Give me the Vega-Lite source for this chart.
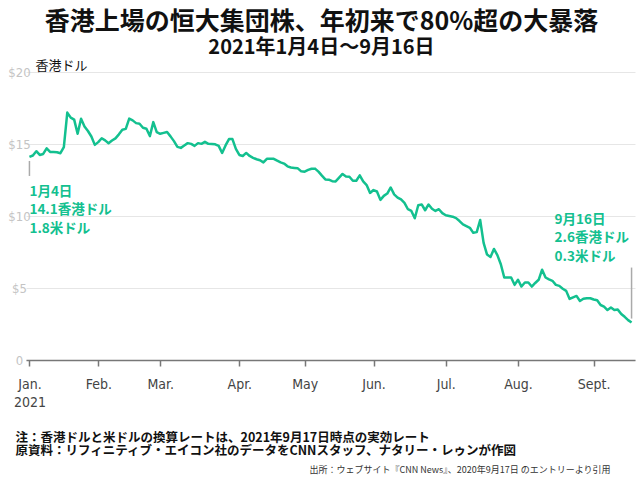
{
  "$schema": "https://vega.github.io/schema/vega-lite/v6.json",
  "autosize": {"type": "none"},
  "width": 609,
  "height": 288,
  "padding": {"left": 26, "top": 72, "right": 5, "bottom": 119},
  "background": "white",
  "title": {
    "text": "香港上場の恒大集団株、年初来で80%超の大暴落",
    "subtitle": "2021年1月4日～9月16日",
    "anchor": "middle",
    "frame": "bounds",
    "font": "Noto Sans CJK JP",
    "fontSize": 25,
    "fontWeight": "bold",
    "color": "#111111",
    "subtitleFont": "Noto Sans CJK JP",
    "subtitleFontSize": 20,
    "subtitleFontWeight": "bold",
    "subtitleColor": "#111111",
    "subtitlePadding": 3,
    "offset": 1
  },
  "config": {"view": {"stroke": null}},
  "datasets": {
    "prices": [
      {"date": "2021-01-04", "price": 14.1},
      {"date": "2021-01-05", "price": 14.2},
      {"date": "2021-01-06", "price": 14.5},
      {"date": "2021-01-07", "price": 14.24},
      {"date": "2021-01-08", "price": 14.31},
      {"date": "2021-01-11", "price": 14.7},
      {"date": "2021-01-12", "price": 14.45},
      {"date": "2021-01-13", "price": 14.44},
      {"date": "2021-01-14", "price": 14.43},
      {"date": "2021-01-15", "price": 14.36},
      {"date": "2021-01-18", "price": 14.78},
      {"date": "2021-01-19", "price": 17.18},
      {"date": "2021-01-20", "price": 16.83},
      {"date": "2021-01-21", "price": 16.69},
      {"date": "2021-01-22", "price": 15.71},
      {"date": "2021-01-25", "price": 16.76},
      {"date": "2021-01-26", "price": 16.22},
      {"date": "2021-01-27", "price": 15.9},
      {"date": "2021-01-28", "price": 15.52},
      {"date": "2021-01-29", "price": 14.94},
      {"date": "2021-02-01", "price": 15.13},
      {"date": "2021-02-02", "price": 15.4},
      {"date": "2021-02-03", "price": 15.25},
      {"date": "2021-02-04", "price": 15.05},
      {"date": "2021-02-05", "price": 15.24},
      {"date": "2021-02-08", "price": 15.39},
      {"date": "2021-02-09", "price": 15.67},
      {"date": "2021-02-10", "price": 15.99},
      {"date": "2021-02-11", "price": 16.05},
      {"date": "2021-02-16", "price": 16.76},
      {"date": "2021-02-17", "price": 16.64},
      {"date": "2021-02-18", "price": 16.45},
      {"date": "2021-02-19", "price": 16.41},
      {"date": "2021-02-22", "price": 16.13},
      {"date": "2021-02-23", "price": 16.06},
      {"date": "2021-02-24", "price": 15.55},
      {"date": "2021-02-25", "price": 16.52},
      {"date": "2021-02-26", "price": 15.83},
      {"date": "2021-03-01", "price": 15.71},
      {"date": "2021-03-02", "price": 15.77},
      {"date": "2021-03-03", "price": 15.83},
      {"date": "2021-03-04", "price": 15.53},
      {"date": "2021-03-05", "price": 15.2},
      {"date": "2021-03-08", "price": 14.8},
      {"date": "2021-03-09", "price": 14.73},
      {"date": "2021-03-10", "price": 14.9},
      {"date": "2021-03-11", "price": 15.06},
      {"date": "2021-03-12", "price": 15.01},
      {"date": "2021-03-15", "price": 14.87},
      {"date": "2021-03-16", "price": 15.06},
      {"date": "2021-03-17", "price": 15.01},
      {"date": "2021-03-18", "price": 15.15},
      {"date": "2021-03-19", "price": 15.01},
      {"date": "2021-03-22", "price": 15.0},
      {"date": "2021-03-23", "price": 14.98},
      {"date": "2021-03-24", "price": 14.87},
      {"date": "2021-03-25", "price": 14.38},
      {"date": "2021-03-26", "price": 14.9},
      {"date": "2021-03-29", "price": 15.34},
      {"date": "2021-03-30", "price": 15.34},
      {"date": "2021-03-31", "price": 14.66},
      {"date": "2021-04-01", "price": 14.24},
      {"date": "2021-04-07", "price": 14.17},
      {"date": "2021-04-08", "price": 14.38},
      {"date": "2021-04-09", "price": 14.17},
      {"date": "2021-04-12", "price": 14.04},
      {"date": "2021-04-13", "price": 13.94},
      {"date": "2021-04-14", "price": 13.87},
      {"date": "2021-04-15", "price": 13.72},
      {"date": "2021-04-16", "price": 13.97},
      {"date": "2021-04-19", "price": 13.97},
      {"date": "2021-04-20", "price": 13.97},
      {"date": "2021-04-21", "price": 13.84},
      {"date": "2021-04-22", "price": 13.72},
      {"date": "2021-04-23", "price": 13.64},
      {"date": "2021-04-26", "price": 13.45},
      {"date": "2021-04-27", "price": 13.37},
      {"date": "2021-04-28", "price": 13.34},
      {"date": "2021-04-29", "price": 13.31},
      {"date": "2021-04-30", "price": 13.1},
      {"date": "2021-05-03", "price": 13.08},
      {"date": "2021-05-04", "price": 13.2},
      {"date": "2021-05-05", "price": 13.28},
      {"date": "2021-05-06", "price": 13.29},
      {"date": "2021-05-07", "price": 13.08},
      {"date": "2021-05-10", "price": 12.8},
      {"date": "2021-05-11", "price": 12.54},
      {"date": "2021-05-12", "price": 12.52},
      {"date": "2021-05-13", "price": 12.42},
      {"date": "2021-05-14", "price": 12.4},
      {"date": "2021-05-17", "price": 12.66},
      {"date": "2021-05-18", "price": 12.92},
      {"date": "2021-05-20", "price": 12.75},
      {"date": "2021-05-21", "price": 12.73},
      {"date": "2021-05-24", "price": 12.45},
      {"date": "2021-05-25", "price": 12.45},
      {"date": "2021-05-26", "price": 12.82},
      {"date": "2021-05-27", "price": 12.4},
      {"date": "2021-05-28", "price": 12.15},
      {"date": "2021-05-31", "price": 11.6},
      {"date": "2021-06-01", "price": 11.8},
      {"date": "2021-06-02", "price": 11.7},
      {"date": "2021-06-03", "price": 11.12},
      {"date": "2021-06-04", "price": 11.4},
      {"date": "2021-06-07", "price": 11.56},
      {"date": "2021-06-08", "price": 11.98},
      {"date": "2021-06-09", "price": 11.5},
      {"date": "2021-06-10", "price": 11.28},
      {"date": "2021-06-11", "price": 11.15},
      {"date": "2021-06-15", "price": 10.91},
      {"date": "2021-06-16", "price": 10.47},
      {"date": "2021-06-17", "price": 10.35},
      {"date": "2021-06-18", "price": 9.84},
      {"date": "2021-06-21", "price": 10.75},
      {"date": "2021-06-22", "price": 10.8},
      {"date": "2021-06-23", "price": 10.4},
      {"date": "2021-06-24", "price": 10.8},
      {"date": "2021-06-25", "price": 10.5},
      {"date": "2021-06-28", "price": 10.35},
      {"date": "2021-06-29", "price": 10.47},
      {"date": "2021-06-30", "price": 10.2},
      {"date": "2021-07-02", "price": 10.05},
      {"date": "2021-07-05", "price": 10.0},
      {"date": "2021-07-06", "price": 9.95},
      {"date": "2021-07-07", "price": 9.85},
      {"date": "2021-07-08", "price": 9.65},
      {"date": "2021-07-09", "price": 9.42},
      {"date": "2021-07-12", "price": 9.3},
      {"date": "2021-07-13", "price": 9.18},
      {"date": "2021-07-14", "price": 8.83},
      {"date": "2021-07-15", "price": 8.88},
      {"date": "2021-07-16", "price": 9.72},
      {"date": "2021-07-19", "price": 8.13},
      {"date": "2021-07-20", "price": 7.32},
      {"date": "2021-07-21", "price": 7.15},
      {"date": "2021-07-22", "price": 7.71},
      {"date": "2021-07-23", "price": 7.28},
      {"date": "2021-07-26", "price": 6.65},
      {"date": "2021-07-27", "price": 5.73},
      {"date": "2021-07-28", "price": 5.73},
      {"date": "2021-07-29", "price": 5.73},
      {"date": "2021-07-30", "price": 5.22},
      {"date": "2021-08-02", "price": 5.57},
      {"date": "2021-08-03", "price": 5.1},
      {"date": "2021-08-04", "price": 5.38},
      {"date": "2021-08-05", "price": 5.38},
      {"date": "2021-08-06", "price": 5.1},
      {"date": "2021-08-09", "price": 5.35},
      {"date": "2021-08-10", "price": 5.57},
      {"date": "2021-08-11", "price": 6.27},
      {"date": "2021-08-12", "price": 5.73},
      {"date": "2021-08-13", "price": 5.6},
      {"date": "2021-08-16", "price": 5.5},
      {"date": "2021-08-17", "price": 5.22},
      {"date": "2021-08-18", "price": 5.15},
      {"date": "2021-08-19", "price": 4.95},
      {"date": "2021-08-20", "price": 4.8},
      {"date": "2021-08-23", "price": 4.24},
      {"date": "2021-08-24", "price": 4.35},
      {"date": "2021-08-25", "price": 4.45},
      {"date": "2021-08-26", "price": 4.1},
      {"date": "2021-08-27", "price": 4.25},
      {"date": "2021-08-30", "price": 4.29},
      {"date": "2021-08-31", "price": 4.29},
      {"date": "2021-09-01", "price": 4.2},
      {"date": "2021-09-02", "price": 4.15},
      {"date": "2021-09-03", "price": 3.82},
      {"date": "2021-09-06", "price": 3.71},
      {"date": "2021-09-07", "price": 3.47},
      {"date": "2021-09-08", "price": 3.64},
      {"date": "2021-09-09", "price": 3.47},
      {"date": "2021-09-10", "price": 3.5},
      {"date": "2021-09-13", "price": 3.2},
      {"date": "2021-09-14", "price": 3.0},
      {"date": "2021-09-15", "price": 2.77},
      {"date": "2021-09-16", "price": 2.6}
    ],
    "notes": [
      {"date": "2021-01-04", "price": 14.1, "side": "start", "label": "1月4日\n14.1香港ドル\n1.8米ドル"},
      {"date": "2021-09-16", "price": 2.6, "side": "end", "label": "9月16日\n2.6香港ドル\n0.3米ドル"}
    ]
  },
  "encoding": {
    "y": {
      "field": "price",
      "type": "quantitative",
      "title": "香港ドル",
      "scale": {"domain": [0, 20], "nice": false, "zero": true},
      "axis": {
        "values": [0, 5, 10, 15, 20],
        "labelExpr": "datum.value == 0 ? '0' : '$' + datum.value",
        "labelFont": "Liberation Sans Narrow, DejaVu Sans Condensed, sans-serif",
        "labelFontSize": 13,
        "labelColor": "#c4c4c4",
        "labelAlign": "center",
        "labelBaseline": "middle",
        "labelPadding": 7,
        "ticks": false,
        "tickSize": 0,
        "domain": false,
        "grid": true,
        "gridColor": "#e6e6e6",
        "gridWidth": 1,
        "titleAngle": 0,
        "titleAlign": "left",
        "titleBaseline": "middle",
        "titleX": 9,
        "titleY": -7,
        "titleFont": "Noto Sans CJK JP",
        "titleFontSize": 13,
        "titleFontWeight": "normal",
        "titleColor": "#111111"
      }
    }
  },
  "resolve": {"axis": {"x": "independent"}},
  "layer": [
    {
      "data": {"name": "prices"},
      "mark": {"type": "line", "color": "#13c08f", "strokeWidth": 2.5, "strokeJoin": "round"},
      "encoding": {
        "x": {
          "field": "date",
          "type": "ordinal",
          "scale": {"type": "point", "padding": 1.9},
          "axis": {
            "orient": "bottom",
            "title": [
              "注：香港ドルと米ドルの換算レートは、2021年9月17日時点の実効レート",
              "原資料：リフィニティブ・エイコン社のデータをCNNスタッフ、ナタリー・レゥンが作図"
            ],
            "values": ["2021-01-04", "2021-02-01", "2021-03-01", "2021-04-01", "2021-05-03", "2021-06-01", "2021-07-02", "2021-08-02", "2021-09-01"],
            "labelExpr": "utcmonth(toDate(datum.value)) == 0 ? ['Jan.', '2021'] : ['Jan.', 'Feb.', 'Mar.', 'Apr.', 'May', 'Jun.', 'Jul.', 'Aug.', 'Sept.'][utcmonth(toDate(datum.value))]",
            "labelAngle": 0,
            "labelAlign": "center",
            "labelBaseline": "top",
            "labelFont": "Liberation Sans Narrow, DejaVu Sans Condensed, sans-serif",
            "labelFontSize": 14,
            "labelColor": "#444444",
            "labelPadding": 11,
            "labelLineHeight": 18,
            "ticks": true,
            "tickSize": 6,
            "tickColor": "#777777",
            "tickWidth": 1.5,
            "domain": true,
            "domainColor": "#777777",
            "domainWidth": 1.5,
            "grid": false,
            "titleFont": "Noto Sans CJK JP",
            "titleFontSize": 12.5,
            "titleFontWeight": "bold",
            "titleColor": "#111111",
            "titleAnchor": "start",
            "titleAlign": "left",
            "titleBaseline": "top",
            "titleX": -11,
            "titleY": 71,
            "titleLineHeight": 13.5
          }
        }
      }
    },
    {
      "data": {"name": "notes"},
      "transform": [{"filter": "datum.side == 'start'"}],
      "mark": {"type": "rule", "color": "#aaaaaa", "strokeWidth": 1.5, "yOffset": 4, "y2Offset": 19},
      "encoding": {
        "x": {"field": "date", "type": "ordinal", "axis": null},
        "y2": {"field": "price"}
      }
    },
    {
      "data": {"name": "notes"},
      "transform": [{"filter": "datum.side == 'end'"}],
      "mark": {"type": "rule", "color": "#aaaaaa", "strokeWidth": 1.5, "yOffset": -55, "y2Offset": -4},
      "encoding": {
        "x": {"field": "date", "type": "ordinal", "axis": null},
        "y2": {"field": "price"}
      }
    },
    {
      "data": {"name": "notes"},
      "transform": [{"filter": "datum.side == 'start'"}],
      "mark": {"type": "text", "align": "left", "baseline": "top", "dy": 28, "dx": 0, "lineBreak": "\n", "lineHeight": 18.5, "font": "Noto Sans CJK JP", "fontSize": 13.5, "fontWeight": "bold", "color": "#13c08f"},
      "encoding": {
        "x": {"field": "date", "type": "ordinal", "axis": null},
        "text": {"field": "label", "type": "nominal"}
      }
    },
    {
      "data": {"name": "notes"},
      "transform": [{"filter": "datum.side == 'end'"}],
      "mark": {"type": "text", "align": "left", "baseline": "top", "dy": -110, "dx": -77, "lineBreak": "\n", "lineHeight": 18.5, "font": "Noto Sans CJK JP", "fontSize": 13.5, "fontWeight": "bold", "color": "#13c08f"},
      "encoding": {
        "x": {
          "field": "date",
          "type": "ordinal",
          "axis": {
            "orient": "bottom",
            "labels": false,
            "ticks": false,
            "domain": false,
            "grid": false,
            "title": "出所：ウェブサイト『CNN News』、2020年9月17日 のエントリーより引用",
            "titleFont": "Noto Sans CJK JP",
            "titleFontSize": 9,
            "titleFontWeight": "normal",
            "titleColor": "#333333",
            "titleAnchor": "end",
            "titleAlign": "right",
            "titleBaseline": "middle",
            "titleX": 584,
            "titleY": 109
          }
        },
        "text": {"field": "label", "type": "nominal"}
      }
    }
  ]
}
